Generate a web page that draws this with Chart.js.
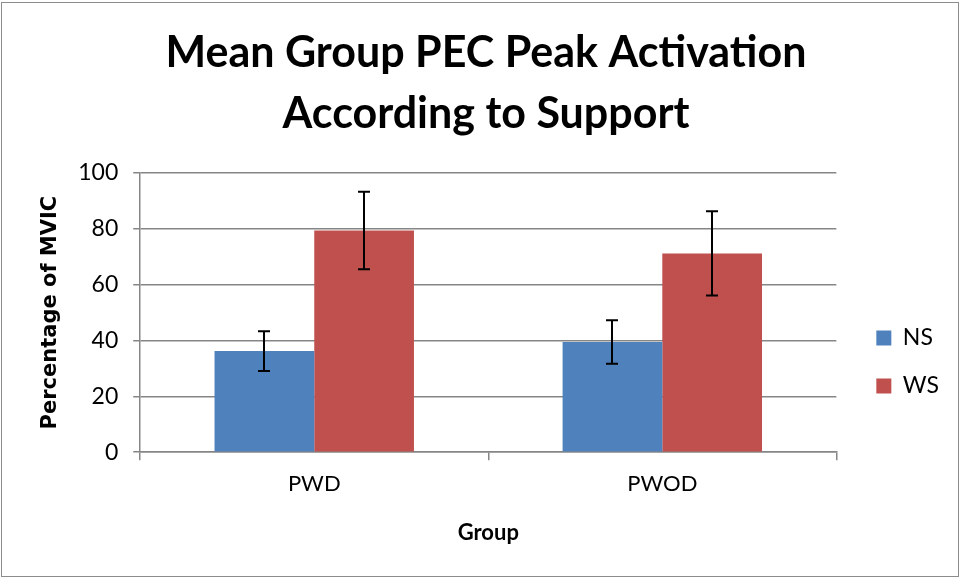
<!DOCTYPE html>
<html>
<head>
<meta charset="utf-8">
<script src="https://cdn.jsdelivr.net/npm/chart.js@4.4.1/dist/chart.umd.min.js"></script>
<style>
    body { margin: 0; background: #fff; }
    #wrap { width: 960px; height: 578px; }
</style>
</head>
<body>
<div id="wrap"><canvas id="chart" width="960" height="578"></canvas></div>
<script>
    // Data
    var groups = ["PWD", "PWOD"];
    var nsValues = [36.2, 39.5];
    var nsErrors = [7.1, 7.8];
    var wsValues = [79.4, 71.2];
    var wsErrors = [13.9, 15.1];
    var yTicks = [0, 20, 40, 60, 80, 100];

    var gridGray = "#868686";

    // white background + thin frame round the whole chart
    var frame = {
        id: "frame",
        beforeDraw: function (chart) {
            var c = chart.ctx;
            c.save();
            c.fillStyle = "#fff";
            c.fillRect(0, 0, chart.width, chart.height);
            c.strokeStyle = "#8c8c8c";
            c.lineWidth = 1;
            c.strokeRect(1.5, 2.5, chart.width - 3, chart.height - 4);
            c.restore();
        }
    };

    // legend sits a bit further from the plot than chart.js puts it
    var legendNudge = {
        id: "legendNudge",
        afterLayout: function (chart) {
            if (chart.legend) {
                chart.legend.left += 15;
                chart.legend.right += 15;
            }
        }
    };

    // error bars drawn with the library's own y scale
    var errorBars = {
        id: "errorBars",
        afterDatasetsDraw: function (chart) {
            var c = chart.ctx;
            var y = chart.scales.y;
            c.save();
            c.strokeStyle = "#000";
            c.lineWidth = 2;
            chart.data.datasets.forEach(function (ds, i) {
                var meta = chart.getDatasetMeta(i);
                meta.data.forEach(function (bar, j) {
                    var v = ds.data[j], e = ds.errors[j];
                    var top = y.getPixelForValue(v + e);
                    var bot = y.getPixelForValue(v - e);
                    var x = Math.round(bar.x);
                    c.beginPath();
                    c.moveTo(x, top); c.lineTo(x, bot);
                    c.moveTo(x - 6, top); c.lineTo(x + 6, top);
                    c.moveTo(x - 6, bot); c.lineTo(x + 6, bot);
                    c.stroke();
                });
            });
            c.restore();
        }
    };

    var ctx = document.getElementById("chart").getContext("2d");
    var myChart = new Chart(ctx, {
        type: "bar",
        data: {
            labels: groups,
            datasets: [{
                label: "NS",
                data: nsValues,
                errors: nsErrors,
                backgroundColor: "#4f81bd",
                categoryPercentage: 0.573,
                barPercentage: 1.0
            }, {
                label: "WS",
                data: wsValues,
                errors: wsErrors,
                backgroundColor: "#c0504d",
                categoryPercentage: 0.573,
                barPercentage: 1.0
            }]
        },
        options: {
            responsive: false,
            animation: false,
            layout: { padding: { left: 38, right: 26, top: 18, bottom: 28 } },
            plugins: {
                title: {
                    display: true,
                    text: ["Mean Group PEC Peak Activation", "According to Support"],
                    color: "#000",
                    font: { family: "Lato", size: 43, weight: "bold", lineHeight: 1.43 },
                    padding: { top: 4, bottom: 28 }
                },
                legend: {
                    position: "right",
                    // empty legend title only pushes the items down
                    title: { display: true, text: " ", font: { size: 10, lineHeight: 1.2 }, padding: { top: 144, bottom: 0 } },
                    labels: {
                        color: "#000",
                        boxWidth: 15,
                        boxHeight: 15,
                        padding: 25,
                        font: { family: "Lato", size: 23 }
                    }
                },
                tooltip: { enabled: false }
            },
            scales: {
                x: {
                    grid: { display: true, offset: true, drawOnChartArea: false, color: gridGray, lineWidth: 1.5, tickLength: 8 },
                    border: { color: gridGray, width: 1.5 },
                    ticks: { color: "#000", font: { family: "Lato", size: 22 }, padding: 11 },
                    title: { display: true, text: "Group", color: "#000", font: { family: "Lato", size: 22, weight: "bold" }, padding: { top: 11 } }
                },
                y: {
                    min: 0,
                    max: 100,
                    afterBuildTicks: function (axis) {
                        axis.ticks = yTicks.map(function (v) { return { value: v }; });
                    },
                    grid: { color: gridGray, lineWidth: 1.5, tickLength: 7 },
                    border: { color: gridGray, width: 1.5 },
                    ticks: { color: "#000", font: { family: "Lato", size: 23 }, padding: 15 },
                    title: { display: true, text: "Percentage of MVIC", color: "#000", font: { family: "DejaVu Sans", size: 21, weight: "bold" }, padding: 0 }
                }
            }
        },
        plugins: [frame, legendNudge, errorBars]
    });
</script>
</body>
</html>
